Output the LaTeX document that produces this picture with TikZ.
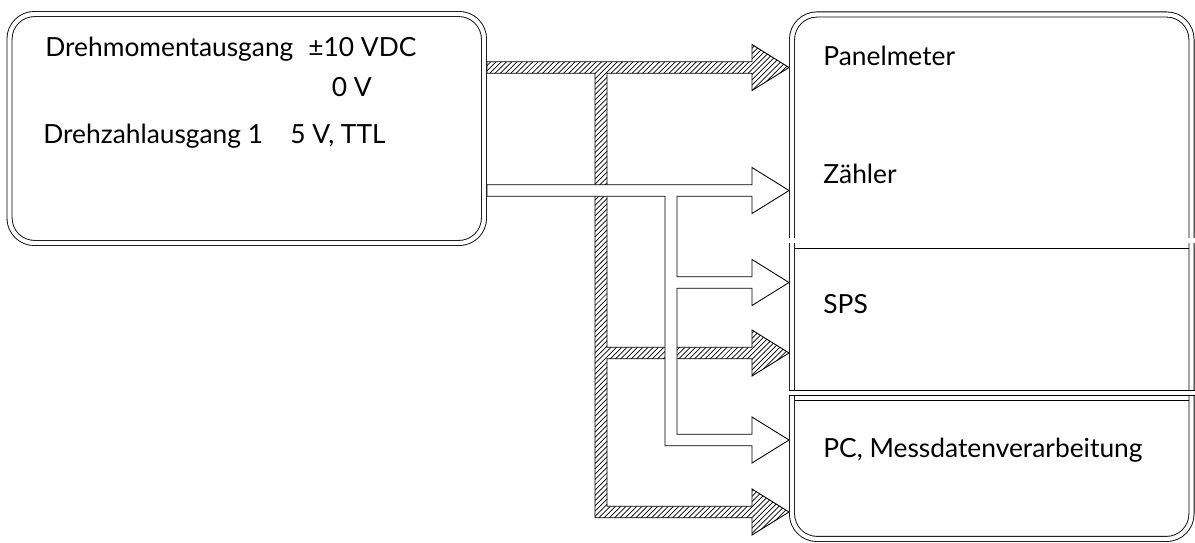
\documentclass[tikz,border=0pt]{standalone}
\usepackage{fontspec}
\setmainfont{Lato}
\usetikzlibrary{patterns}

\begin{document}
\begin{tikzpicture}[
  box/.style={draw, double, double distance=2.4pt, line width=0.5pt,
    rounded corners=0.5cm, inner sep=0pt},
  sep/.style={draw, double, double distance=2.4pt, line width=0.5pt},
  txt/.style={anchor=base west, inner sep=0pt, font=\fontsize{15}{18}\selectfont},
  torque/.style={draw, line width=0.5pt, pattern=north east lines},
  speed/.style={draw, line width=0.5pt, fill=white}
]

  \useasboundingbox (0,0) rectangle (23.9,-10.84);

  % -------------------------
  % Drehmoment (schraffiert)
  % -------------------------
  \path[torque] (9.74,-1.235) -- (15.04,-1.235) -- (15.04,-0.89) -- (15.78,-1.35)
    -- (15.04,-1.81) -- (15.04,-1.465) -- (12.14,-1.465) -- (12.14,-6.945)
    -- (15.04,-6.945) -- (15.04,-6.60) -- (15.78,-7.06) -- (15.04,-7.52)
    -- (15.04,-7.175) -- (12.14,-7.175) -- (12.14,-10.125) -- (15.04,-10.125)
    -- (15.04,-9.78) -- (15.78,-10.24) -- (15.04,-10.70) -- (15.04,-10.355)
    -- (11.90,-10.355) -- (11.90,-1.465) -- (9.74,-1.465) -- cycle;

  % -------------------------
  % Drehzahl (weiss)
  % -------------------------
  \path[speed] (9.74,-3.695) -- (15.04,-3.695) -- (15.04,-3.35) -- (15.78,-3.81)
    -- (15.04,-4.27) -- (15.04,-3.925) -- (13.54,-3.925) -- (13.54,-5.535)
    -- (15.04,-5.535) -- (15.04,-5.19) -- (15.78,-5.65) -- (15.04,-6.11)
    -- (15.04,-5.765) -- (13.54,-5.765) -- (13.54,-8.685) -- (15.04,-8.685)
    -- (15.04,-8.34) -- (15.78,-8.80) -- (15.04,-9.26) -- (15.04,-8.915)
    -- (13.30,-8.915) -- (13.30,-3.925) -- (9.74,-3.925) -- cycle;

  % -------------------------
  % Ausgaenge
  % -------------------------
  \node[box, minimum width=9.49cm, minimum height=4.58cm] (ausgang) at (4.935,-2.57) {};

  \node[txt] (dmoment) at (0.90,-1.13) {Drehmomentausgang};
  \node[txt] (dmwert)  at (6.16,-1.13) {±10 VDC};
  \node[txt] (null)    at (6.63,-1.92) {0 V};
  \node[txt] (dzahl)   at (0.86,-2.86) {Drehzahlausgang 1};
  \node[txt] (dzwert)  at (5.80,-2.86) {5 V, TTL};

  % -------------------------
  % Empfaenger
  % -------------------------
  \node[box, minimum width=7.99cm, minimum height=10.49cm] (empfang) at (19.835,-5.534) {};

  \path[sep] (15.78,-4.81) -- (23.89,-4.81);
  \draw[line width=0.5pt] (15.90,-4.966) -- (23.78,-4.966);
  \path[sep] (15.78,-7.854) -- (23.89,-7.854);
  \draw[line width=0.5pt] (15.90,-8.014) -- (23.78,-8.014);

  \node[txt] (panel) at (16.46,-1.30) {Panelmeter};
  \node[txt] (zaehl) at (16.46,-3.66) {Zähler};
  \node[txt] (sps)   at (16.46,-6.26) {SPS};
  \node[txt] (pc)    at (16.46,-9.14) {PC, Messdatenverarbeitung};

\end{tikzpicture}
\end{document}
